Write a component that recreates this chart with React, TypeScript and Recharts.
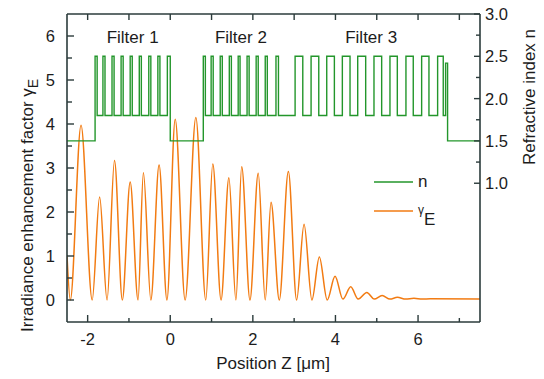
import { LineChart, Line, XAxis, YAxis, ReferenceArea, Legend } from 'recharts'

const AXIS = '#2b3b3b'
const INK = '#1c1c1c'
const GREEN = '#23962b'
const ORANGE = '#f27b12'
const FONT = '"Liberation Sans", Arial, sans-serif'

// irradiance enhancement: maxima and nodes along z (µm)
const gammaZ = [
  -2.5, -2.42, -2.16, -1.89, -1.71, -1.53, -1.35, -1.16, -0.97, -0.78, -0.65, -0.47, -0.27, -0.08,
  0.12, 0.36, 0.62, 0.86, 1.03, 1.23, 1.42, 1.59, 1.73, 1.93, 2.13, 2.3, 2.44, 2.64, 2.86, 3.06,
  3.24, 3.43, 3.61, 3.8, 3.99, 4.18, 4.37, 4.55, 4.76, 4.94, 5.13, 5.32, 5.5, 5.7, 5.9, 6.1, 6.3, 7.5,
]
const gammaVal = [
  1.02, 0, 3.97, 0, 2.34, 0, 3.17, 0, 2.68, 0, 2.89, 0, 3.07, 0,
  4.11, 0, 4.15, 0, 3.09, 0, 2.78, 0, 3.03, 0, 2.88, 0, 2.22, 0, 2.92, 0,
  1.72, 0, 0.98, 0, 0.54, 0.02, 0.3, 0.02, 0.17, 0.02, 0.1, 0.02, 0.06, 0.02, 0.04, 0.02, 0.03, 0.02,
]

// refractive index profile: each value holds from its edge to the next one
const nZ = [
  -2.5,
  -1.82, -1.77, -1.63, -1.58, -1.41, -1.36, -1.19, -1.14, -0.97, -0.92, -0.75, -0.7, -0.52, -0.47,
  -0.3, -0.25, -0.07, 0,
  0.8, 0.85, 0.99, 1.04, 1.21, 1.26, 1.43, 1.48, 1.645, 1.69, 1.86, 1.91, 2.08, 2.13, 2.3, 2.35,
  2.56, 2.62,
  3.023, 3.209, 3.41, 3.596, 3.789, 3.974, 4.167, 4.353, 4.539, 4.732, 4.933, 5.119, 5.32, 5.498,
  5.707, 5.884, 6.087, 6.264, 6.474, 6.61, 6.667, 6.715, 7.5,
]
const nVal = [
  1.5,
  2.5, 1.8, 2.5, 1.8, 2.5, 1.8, 2.5, 1.8, 2.5, 1.8, 2.5, 1.8, 2.5, 1.8,
  2.5, 1.8, 2.5, 1.5,
  2.5, 1.8, 2.5, 1.8, 2.5, 1.8, 2.5, 1.8, 2.5, 1.8, 2.5, 1.8, 2.5, 1.8, 2.5, 1.8,
  2.5, 1.8,
  2.5, 1.8, 2.5, 1.8, 2.5, 1.8, 2.5, 1.8, 2.5, 1.8, 2.5, 1.8, 2.5, 1.8,
  2.5, 1.8, 2.5, 1.8, 2.5, 1.8, 2.42, 1.5, 1.5,
]

const filterNames = ['Filter 1', 'Filter 2', 'Filter 3']
const filterFrom = [-1.82, 0.8, 3.02]
const filterTo = [0, 2.62, 6.71]

const xTicks = [-2, -1, 0, 1, 2, 3, 4, 5, 6, 7]
const xLabels = [-2, 0, 2, 4, 6]
const gTicks = [0, 0.5, 1, 1.5, 2, 2.5, 3, 3.5, 4, 4.5, 5, 5.5, 6]
const gLabels = [0, 1, 2, 3, 4, 5, 6]
const nTicks = [1, 1.25, 1.5, 1.75, 2, 2.25, 2.5, 2.75, 3]
const nLabels = [1, 1.5, 2, 2.5, 3]

const gammaData = gammaZ.map((z, i) => ({ z, g: gammaVal[i] }))
const nData = nZ.map((z, i) => ({ z, n: nVal[i] }))

const txt = { fontFamily: FONT, fill: INK }

// inward tick marks, labels outside the frame
const BottomTick = ({ x, y, payload }: any) => {
  const major = xLabels.includes(payload.value)
  return (
    <g>
      <line x1={x} x2={x} y1={y} y2={y - (major ? 7 : 4)} stroke={AXIS} strokeWidth={1.4} />
      {major && <text x={x} y={y + 23} textAnchor="middle" fontSize={16.5} {...txt}>{payload.value}</text>}
    </g>
  )
}

const TopTick = ({ x, y }: any) => (
  <line x1={x} x2={x} y1={y} y2={y + 6} stroke={AXIS} strokeWidth={1.4} />
)

const LeftTick = ({ x, y, payload }: any) => {
  const major = gLabels.includes(payload.value)
  return (
    <g>
      <line x1={x} x2={x + (major ? 7 : 5)} y1={y} y2={y} stroke={AXIS} strokeWidth={1.4} />
      {major && <text x={x - 12} y={y + 6} textAnchor="end" fontSize={16.5} {...txt}>{payload.value}</text>}
    </g>
  )
}

const RightTick = ({ x, y, payload }: any) => {
  const major = nLabels.includes(payload.value)
  return (
    <g>
      <line x1={x} x2={x - (major ? 6 : 4)} y1={y} y2={y} stroke={AXIS} strokeWidth={1.4} />
      {major && <text x={x + 5} y={y + 6} textAnchor="start" fontSize={16.5} {...txt}>{payload.value.toFixed(1)}</text>}
    </g>
  )
}

const LeftTitle = () => (
  <text transform="translate(33,332) rotate(-90)" fontSize={17} {...txt}>
    Irradiance enhancement factor γ<tspan dy={5} fontSize={14}>E</tspan>
  </text>
)

const RightTitle = () => (
  <text transform="translate(535,97) rotate(-90)" textAnchor="middle" fontSize={17} {...txt}>
    Refractive index n
  </text>
)

const BottomTitle = () => (
  <text x={273} y={369} textAnchor="middle" fontSize={17} {...txt}>
    Position Z [μm]
  </text>
)

const LegendBox = () => (
  <svg width={80} height={62} style={{ display: 'block' }}>
    <line x1={4} x2={43} y1={12} y2={12} stroke={GREEN} strokeWidth={1.5} />
    <text x={48} y={17} fontSize={17} {...txt}>n</text>
    <line x1={4} x2={43} y1={41} y2={41} stroke={ORANGE} strokeWidth={1.5} />
    <text x={48} y={44} fontSize={12} {...txt}>
      γ<tspan dx={0} dy={11} fontSize={17}>E</tspan>
    </text>
  </svg>
)

export default function App() {
  return (
    <div style={{ position: 'absolute', left: 0, top: 0 }}>
      <LineChart width={544} height={379} margin={{ top: 13, right: 0, bottom: 0, left: 0 }}>
        <XAxis xAxisId="b" type="number" dataKey="z" domain={[-2.5, 7.5]} ticks={xTicks} interval={0}
          height={57} tickSize={0} tickMargin={0} tickLine={false} tick={BottomTick}
          axisLine={{ stroke: AXIS, strokeWidth: 1.6 }} allowDataOverflow label={<BottomTitle />} />
        <XAxis xAxisId="t" orientation="top" type="number" dataKey="z" domain={[-2.5, 7.5]} ticks={xTicks}
          interval={0} height={1} tickSize={0} tickMargin={0} tickLine={false} tick={TopTick}
          axisLine={{ stroke: AXIS, strokeWidth: 1.6 }} allowDataOverflow />
        <YAxis yAxisId="g" orientation="left" type="number" domain={[-0.5, 6.5]} ticks={gTicks} interval={0}
          width={67} tickSize={0} tickMargin={0} tickLine={false} tick={LeftTick}
          axisLine={{ stroke: AXIS, strokeWidth: 1.6 }} allowDataOverflow label={<LeftTitle />} />
        <YAxis yAxisId="n" orientation="right" type="number" domain={[-0.64, 3]} ticks={nTicks} interval={0}
          width={64} tickSize={0} tickMargin={0} tickLine={false} tick={RightTick}
          axisLine={{ stroke: AXIS, strokeWidth: 1.6 }} allowDataOverflow label={<RightTitle />} />
        {filterNames.map((name, i) => (
          <ReferenceArea key={name} xAxisId="b" yAxisId="n" x1={filterFrom[i]} x2={filterTo[i]}
            fill="none" stroke="none" ifOverflow="visible"
            label={{ value: name, position: 'insideTop', offset: 17, fontSize: 17, fontFamily: FONT, fill: INK }} />
        ))}
        <Line xAxisId="b" yAxisId="g" data={gammaData} dataKey="g" type="monotone" dot={false}
          stroke={ORANGE} strokeWidth={1.5} isAnimationActive={false} />
        <Line xAxisId="b" yAxisId="n" data={nData} dataKey="n" type="stepAfter" dot={false}
          stroke={GREEN} strokeWidth={1.4} isAnimationActive={false} />
        <Legend layout="vertical" align="center" verticalAlign="middle" content={<LegendBox />}
          wrapperStyle={{ position: 'absolute', left: 370, top: 170, width: 80, height: 62 }} />
      </LineChart>
    </div>
  )
}
